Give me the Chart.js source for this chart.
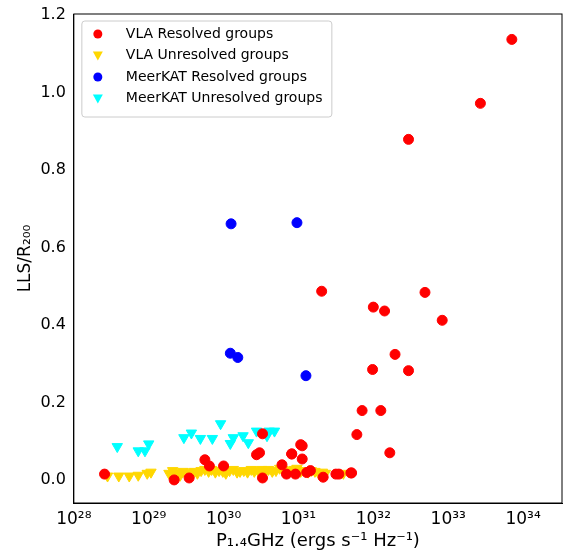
<!DOCTYPE html>
<html><head><meta charset="utf-8">
<script src="https://cdn.jsdelivr.net/npm/chart.js@4"></script>
<style>body{margin:0;background:#fff}#w{width:569px;height:552px}</style>
</head><body><div id="w"><canvas id="c"></canvas></div>
<script>
const vlaResX=[33.85,33.43,32.47,31.31,32.69,32.0,32.15,32.92,32.29,31.99,32.47,31.85,32.10,31.78,32.22,31.70,30.52,31.03,30.91,30.48,30.44,29.75,29.81,30.0,28.41,29.34,29.54,30.52,30.78,30.84,30.91,30.96,31.05,31.05,31.11,31.16,31.33,31.50,31.54,31.71];
const vlaResY=[1.137,0.972,0.879,0.487,0.484,0.446,0.436,0.412,0.324,0.285,0.282,0.179,0.179,0.117,0.07,0.018,0.119,0.091,0.067,0.07,0.065,0.052,0.036,0.036,0.015,0.0,0.005,0.005,0.039,0.015,0.067,0.015,0.088,0.054,0.019,0.024,0.007,0.015,0.015,0.018];
const vlaUnX=[28.45,28.6,28.74,28.86,28.98,29.03,29.27,29.32,29.37,29.42,29.46,29.51,29.56,29.61,29.65,29.70,29.75,29.80,29.84,29.89,29.94,29.99,30.03,30.08,30.13,30.18,30.22,30.27,30.32,30.37,30.41,30.46,30.51,30.56,30.60,30.65,30.70,30.75,30.79,30.84,30.89,30.94,30.98,31.03,31.08,31.13,31.17,31.22,31.27,31.32,31.36,31.60];
const vlaUnY=[0.01,0.01,0.01,0.012,0.017,0.02,0.017,0.024,0.02,0.012,0.022,0.017,0.02,0.022,0.017,0.024,0.027,0.022,0.027,0.02,0.024,0.022,0.017,0.024,0.027,0.02,0.022,0.024,0.02,0.027,0.022,0.024,0.027,0.022,0.027,0.022,0.024,0.03,0.027,0.022,0.024,0.027,0.03,0.022,0.024,0.02,0.024,0.022,0.017,0.02,0.017,0.017];
const mkResX=[30.10,30.98,30.09,30.19,31.10];
const mkResY=[0.661,0.664,0.327,0.316,0.269];
const mkUnX=[28.58,28.86,28.95,29.0,29.47,29.57,29.69,29.85,29.96,30.09,30.13,30.26,30.33,30.44,30.58,30.61,30.68];
const mkUnY=[0.086,0.075,0.075,0.093,0.109,0.121,0.107,0.107,0.145,0.094,0.109,0.114,0.096,0.126,0.114,0.126,0.126];
const xTicks=[28,29,30,31,32,33,34];
const yTicks=[0,0.2,0.4,0.6,0.8,1.0,1.2];
const sup={'0':'⁰','1':'¹','2':'²','3':'³','4':'⁴','5':'⁵','6':'⁶','7':'⁷','8':'⁸','9':'⁹'};
const pts=(xs,ys)=>xs.map((x,i)=>({x:Math.pow(10,x),y:ys[i]}));
const ds=(label,xs,ys,col,style)=>({label,data:pts(xs,ys),backgroundColor:col,borderColor:col,pointStyle:style,pointRadius:style==='triangle'?6:5,rotation:style==='triangle'?180:0});
Chart.defaults.font.family='DejaVu Sans';
Chart.defaults.color='#000';
new Chart(document.getElementById('c'),{type:'scatter',
data:{datasets:[ds('VLA Resolved groups',vlaResX,vlaResY,'#ff0000','circle'),
ds('VLA Unresolved groups',vlaUnX,vlaUnY,'#ffd700','triangle'),
ds('MeerKAT Resolved groups',mkResX,mkResY,'#0000ff','circle'),
ds('MeerKAT Unresolved groups',mkUnX,mkUnY,'#00ffff','triangle')]},
options:{responsive:true,maintainAspectRatio:false,animation:false,
layout:{padding:{top:14,right:0,left:11,bottom:0}},
plugins:{legend:{display:false},tooltip:{enabled:false}},
scales:{x:{type:'logarithmic',min:1e28,max:Math.pow(10,34.52),
afterBuildTicks:a=>{a.ticks=xTicks.map(v=>({value:Math.pow(10,v)}));},
ticks:{font:{size:17},autoSkip:false,maxRotation:0,padding:1,callback:v=>'10'+String(Math.round(Math.log10(v))).split('').map(c=>sup[c]).join('')},
grid:{display:false,drawTicks:true,tickLength:5},border:{color:'#000'},
title:{display:true,text:'P₁.₄GHz (ergs s⁻¹ Hz⁻¹)',font:{size:18},padding:{top:0,bottom:0}}},
y:{min:-0.0596,max:1.2026,
afterBuildTicks:a=>{a.ticks=yTicks.map(v=>({value:v}));},
ticks:{font:{size:16},padding:3,callback:v=>v.toFixed(1)},
grid:{display:false,tickLength:5},border:{color:'#000'},
title:{display:true,text:'LLS/R₂₀₀',font:{size:17},padding:{bottom:2}}}}},
plugins:[{id:'frame',afterDraw(ch){const {ctx,chartArea:a}=ch;ctx.save();ctx.strokeStyle='#000';ctx.lineWidth=1;ctx.strokeRect(a.left,a.top,a.right-a.left,a.bottom-a.top);
const lx=a.left+8,ly=a.top+7,w=250,h=96;ctx.fillStyle='rgba(255,255,255,0.85)';ctx.strokeStyle='#ccc';ctx.beginPath();ctx.roundRect(lx,ly,w,h,3);ctx.fill();ctx.stroke();
ctx.font='14px DejaVu Sans';ctx.textBaseline='middle';
ch.data.datasets.forEach((d,i)=>{const y=ly+13+i*21.5,x=lx+16;ctx.fillStyle=d.backgroundColor;ctx.beginPath();
if(d.pointStyle==='circle'){ctx.arc(x,y,4.5,0,2*Math.PI);}else{ctx.moveTo(x-5,y-4);ctx.lineTo(x+5,y-4);ctx.lineTo(x,y+5);ctx.closePath();}
ctx.fill();ctx.fillStyle='#000';ctx.fillText(d.label,x+28,y);});ctx.restore();}}]});
</script></body></html>
